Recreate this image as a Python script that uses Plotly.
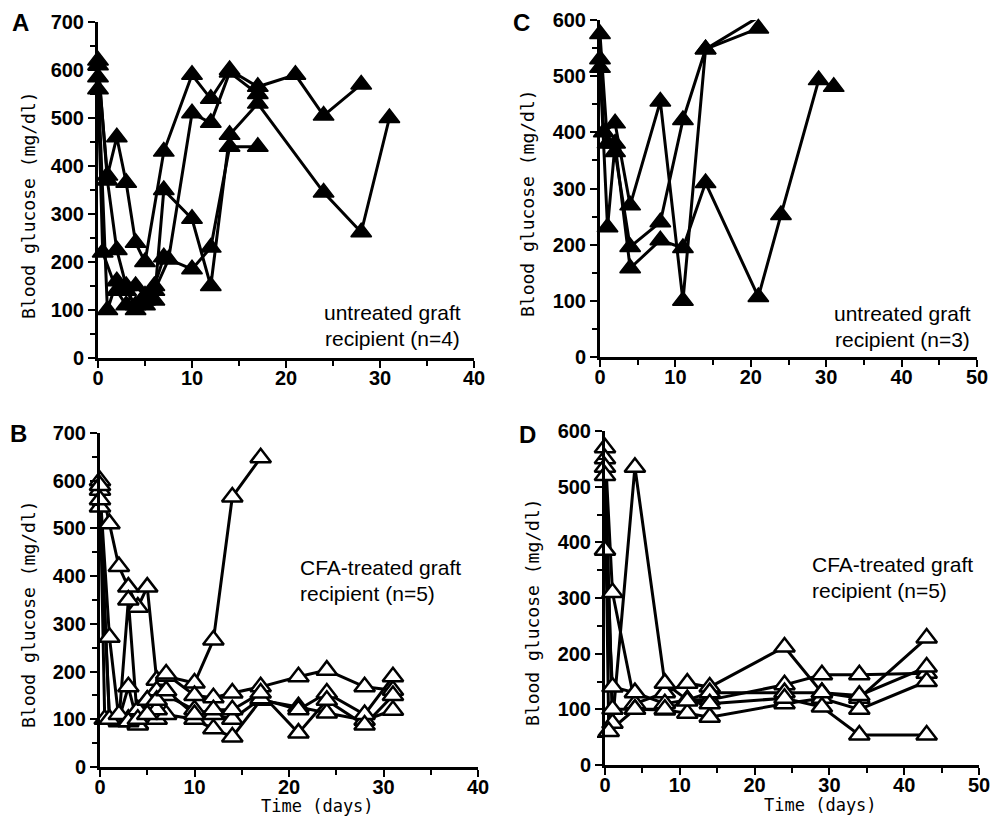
import plotly.graph_objects as go

# ---------------- Panel A: untreated graft recipients (filled triangles)
A1_day = [0, 1, 2, 3, 4, 5, 7, 10, 12, 14, 17, 21, 24, 28]
A1_glu = [610, 380, 460, 365, 240, 200, 430, 590, 540, 600, 565, 590, 505, 570]
A2_day = [0, 1, 2, 3, 4, 5, 6, 7.5, 10, 12, 14, 17]
A2_glu = [585, 100, 160, 140, 110, 120, 140, 205, 510, 490, 595, 550]
A3_day = [0, 1, 2, 3, 4, 5, 6, 7, 10, 12, 14, 17, 24, 28, 31]
A3_glu = [620, 370, 225, 150, 100, 110, 120, 350, 290, 150, 465, 530, 345, 262, 500]
A4_day = [0, 0.5, 2, 3, 4, 5, 6, 7, 10, 12, 14, 17]
A4_glu = [560, 220, 140, 110, 150, 130, 150, 210, 185, 230, 440, 440]

# ---------------- Panel B: CFA-treated graft recipients (open triangles)
B1_day = [0, 1, 2, 3, 4, 5, 6, 7, 10, 12, 14, 17]
B1_glu = [600, 510, 420, 377, 335, 377, 182, 190, 176, 266, 566, 648]
B2_day = [0, 1, 2, 3, 4, 5, 6, 7, 10, 12, 14, 17, 21, 24, 28, 31]
B2_glu = [580, 272, 100, 168, 90, 140, 160, 195, 150, 145, 155, 168, 189, 203, 168, 161]
B3_day = [0, 1, 2, 3, 4, 5, 6, 7, 10, 12, 14, 17, 21, 24, 28, 31]
B3_glu = [545, 100, 95, 350, 88, 110, 100, 110, 100, 80, 63, 140, 126, 113, 98, 119]
B4_day = [0, 0.5, 2, 3, 4, 5, 6, 7, 10, 12, 14, 17, 21, 24, 28, 31]
B4_glu = [590, 100, 100, 100, 120, 140, 120, 150, 120, 110, 100, 143, 120, 155, 110, 189]
B5_day = [0, 1, 2, 3, 4, 5, 6, 7, 10, 12, 14, 17, 21, 24, 28, 31]
B5_glu = [560, 100, 110, 95, 100, 110, 140, 160, 110, 120, 120, 155, 71, 140, 88, 150]

# ---------------- Panel C: untreated graft recipients (filled triangles)
C1_day = [0, 0.5, 2, 4, 8, 11, 14, 21]
C1_glu = [530, 400, 416, 270, 455, 100, 548, 605]
C2_day = [0, 1, 2, 4, 8, 11, 14, 21]
C2_glu = [575, 380, 365, 196, 240, 422, 548, 585]
C3_day = [0, 1, 2, 4, 8, 11, 14, 21, 24, 29, 31]
C3_glu = [515, 231, 380, 158, 208, 194, 310, 107, 253, 493, 481]

# ---------------- Panel D: CFA-treated graft recipients (open triangles)
D1_day = [0, 1, 4, 8, 11, 14, 24, 29, 34, 43]
D1_glu = [570, 310, 110, 130, 147, 140, 212, 130, 120, 228]
D2_day = [0, 1, 4, 8, 11, 14, 24, 29, 34, 43]
D2_glu = [550, 75, 535, 147, 117, 117, 144, 162, 162, 165]
D3_day = [0, 0.5, 4, 8, 11, 14, 24, 29, 34, 43]
D3_glu = [535, 60, 100, 99, 93, 86, 110, 120, 100, 150]
D4_day = [0, 1, 4, 8, 11, 14, 24, 29, 34, 43]
D4_glu = [386, 140, 130, 110, 117, 130, 130, 130, 125, 176]
D5_day = [0, 1, 4, 8, 11, 14, 24, 29, 34, 43]
D5_glu = [520, 100, 100, 100, 115, 110, 120, 104, 54, 54]

panel_letters = ["A", "B", "C", "D"]
y_title = "Blood glucose (mg/dl)"
x_title = "Time (days)"
note_untreated = ["untreated graft", "recipient (n=4)", "recipient (n=3)"]
note_cfa = ["CFA-treated graft", "recipient (n=5)"]

W, H = 992, 817
def fx(p):
    return p / W
def fy(p):
    return 1 - p / H

panels = [
    dict(ax="", xdom=(98, 474), ydom=(22, 358), xr=40, yr=700, filled=True,
         series=[(A1_day, A1_glu), (A2_day, A2_glu), (A3_day, A3_glu), (A4_day, A4_glu)]),
    dict(ax="2", xdom=(100, 478), ydom=(433, 767), xr=40, yr=700, filled=False,
         series=[(B1_day, B1_glu), (B2_day, B2_glu), (B3_day, B3_glu), (B4_day, B4_glu), (B5_day, B5_glu)]),
    dict(ax="3", xdom=(600, 977), ydom=(20, 357), xr=50, yr=600, filled=True,
         series=[(C1_day, C1_glu), (C2_day, C2_glu), (C3_day, C3_glu)]),
    dict(ax="4", xdom=(605, 979), ydom=(431, 765), xr=50, yr=600, filled=False,
         series=[(D1_day, D1_glu), (D2_day, D2_glu), (D3_day, D3_glu), (D4_day, D4_glu), (D5_day, D5_glu)]),
]

fig = go.Figure()
tickfont = dict(family="Arial, Liberation Sans", size=20, color="black", weight="bold")

for p in panels:
    xref = "x" + p["ax"]
    yref = "y" + p["ax"]
    # lines first
    for d, g in p["series"]:
        fig.add_trace(go.Scatter(x=d, y=g, mode="lines", xaxis=xref, yaxis=yref,
                                 line=dict(color="black", width=3), cliponaxis=False,
                                 showlegend=False, hoverinfo="skip"))
    for d, g in p["series"]:
        fig.add_trace(go.Scatter(
            x=d, y=g, mode="markers", xaxis=xref, yaxis=yref, cliponaxis=False, showlegend=False,
            marker=dict(symbol="triangle-up", size=18,
                        color="black" if p["filled"] else "white",
                        line=dict(color="black", width=1.5 if p["filled"] else 2.5))))
    axx = dict(domain=[fx(p["xdom"][0]), fx(p["xdom"][1])], range=[0, p["xr"]],
               anchor=yref, tick0=0, dtick=10, ticks="outside", ticklen=7, tickwidth=2,
               tickcolor="black", showline=True, linewidth=3, linecolor="black",
               showgrid=False, zeroline=False, tickfont=tickfont, automargin=False,
               ticklabelstandoff=-7,
               minor=dict(dtick=5, ticks="outside", ticklen=5, tickwidth=2, tickcolor="black", showgrid=False))
    axy = dict(domain=[fy(p["ydom"][1]), fy(p["ydom"][0])], range=[0, p["yr"]],
               anchor=xref, tick0=0, dtick=100, ticks="outside", ticklen=7, tickwidth=2,
               tickcolor="black", showline=True, linewidth=3, linecolor="black",
               showgrid=False, zeroline=False, tickfont=tickfont, automargin=False,
               minor=dict(dtick=50, ticks="outside", ticklen=5, tickwidth=2, tickcolor="black", showgrid=False))
    fig.layout["xaxis" + p["ax"]] = axx
    fig.layout["yaxis" + p["ax"]] = axy

ann = []
def add_text(text, x, y, size, family, xanchor="left", angle=0, bold=False):
    ann.append(dict(text=("<b>%s</b>" % text) if bold else text, x=fx(x), y=fy(y),
                    xref="paper", yref="paper", xanchor=xanchor, yanchor="middle",
                    showarrow=False, textangle=angle,
                    font=dict(family=family, size=size, color="black")))

sans = "Arial, Liberation Sans"
mono = "DejaVu Sans Mono"
# panel letters
add_text(panel_letters[0], 20, 22, 24, sans, "center", bold=True)
add_text(panel_letters[1], 18, 433, 24, sans, "center", bold=True)
add_text(panel_letters[2], 521, 22, 24, sans, "center", bold=True)
add_text(panel_letters[3], 527, 434, 24, sans, "center", bold=True)
# axis titles
add_text(y_title, 28, 205, 18, mono, "center", angle=-90)
add_text(y_title, 28, 614, 18, mono, "center", angle=-90)
add_text(y_title, 528, 203, 18, mono, "center", angle=-90)
add_text(y_title, 532, 612, 18, mono, "center", angle=-90)
add_text(x_title, 317, 806, 17, mono, "center")
add_text(x_title, 820, 805, 17, mono, "center")
# notes
add_text(note_untreated[0], 322, 312, 21, sans)
add_text(note_untreated[1], 323, 338, 21, sans)
add_text(note_untreated[0], 832, 313, 21, sans)
add_text(note_untreated[2], 833, 340, 21, sans)
add_text(note_cfa[0], 298, 567, 21, sans)
add_text(note_cfa[1], 298, 593, 21, sans)
add_text(note_cfa[0], 810, 564, 21, sans)
add_text(note_cfa[1], 810, 590, 21, sans)

fig.update_layout(width=W, height=H, margin=dict(l=0, r=0, t=0, b=0),
                  paper_bgcolor="white", plot_bgcolor="white", annotations=ann,
                  showlegend=False)

fig.write_html("out.html", config={"displayModeBar": False},
               post_script="document.body.style.margin='0';document.body.style.padding='0';document.body.style.overflow='hidden';")
